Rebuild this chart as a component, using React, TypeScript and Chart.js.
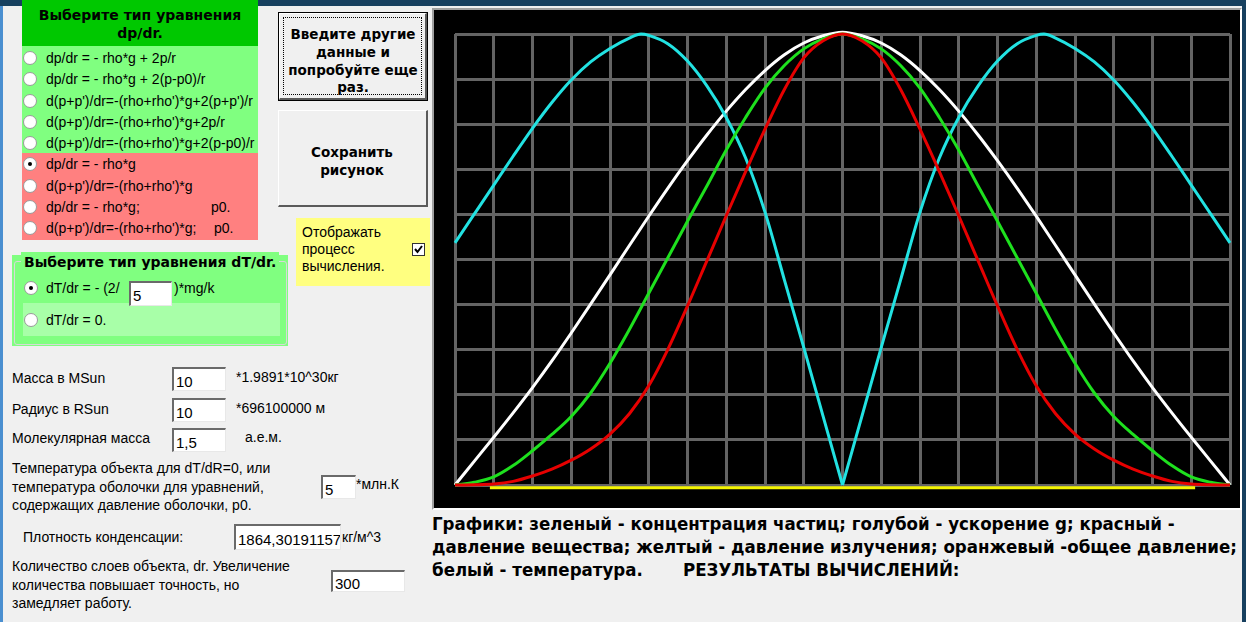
import React, { useEffect, useRef } from "react";
import { Chart, registerables } from "chart.js";

Chart.register(...registerables);

// ---- data (x in grid columns, y normalised 0..1) ----
const X_FULL = [0, 0.5, 1, 1.5, 2, 2.5, 3, 3.5, 4, 4.5, 5, 5.5, 6, 6.5, 7, 7.5, 8, 8.5, 9, 9.5, 10,
  10.5, 11, 11.5, 12, 12.5, 13, 13.5, 14, 14.5, 15, 15.5, 16, 16.5, 17, 17.5, 18, 18.5, 19, 19.5, 20];
const X_LEFT = [0, 0.5, 1, 1.5, 2, 2.5, 3, 3.5, 4, 4.5, 4.8, 5, 5.5, 6, 6.5, 7, 7.5, 8, 8.5, 9, 9.5, 10];
const X_RIGHT = [10, 10.5, 11, 11.5, 12, 12.5, 13, 13.5, 14, 14.5, 15, 15.2, 15.5, 16, 16.5, 17, 17.5, 18, 18.5, 19, 19.5, 20];
const X_YELLOW = [0.9, 10, 19.1];

const TEMPERATURE = [0, 0.053, 0.106, 0.16, 0.216, 0.275, 0.337, 0.401, 0.466, 0.531, 0.596, 0.659, 0.719, 0.776, 0.829, 0.877, 0.919, 0.954, 0.98, 0.996, 1.004,
  0.996, 0.98, 0.954, 0.919, 0.877, 0.829, 0.776, 0.719, 0.659, 0.596, 0.531, 0.466, 0.401, 0.337, 0.275, 0.216, 0.16, 0.106, 0.053, 0];
const CONCENTRATION = [0, 0.006, 0.018, 0.043, 0.076, 0.112, 0.152, 0.204, 0.27, 0.345, 0.425, 0.505, 0.585, 0.663, 0.743, 0.815, 0.88, 0.93, 0.967, 0.989, 1.0,
  0.989, 0.967, 0.93, 0.88, 0.815, 0.743, 0.663, 0.585, 0.505, 0.425, 0.345, 0.27, 0.204, 0.152, 0.112, 0.076, 0.043, 0.018, 0.006, 0];
const PRESSURE = [0, 0.0005, 0.002, 0.008, 0.02, 0.035, 0.055, 0.08, 0.113, 0.158, 0.22, 0.302, 0.397, 0.497, 0.597, 0.695, 0.789, 0.877, 0.947, 0.985, 1.0,
  0.985, 0.947, 0.877, 0.789, 0.695, 0.597, 0.497, 0.397, 0.302, 0.22, 0.158, 0.113, 0.08, 0.055, 0.035, 0.02, 0.008, 0.002, 0.0005, 0];
const GRAVITY_LEFT = [0.537, 0.601, 0.665, 0.729, 0.791, 0.848, 0.898, 0.938, 0.968, 0.991, 1.0, 0.997, 0.978, 0.94, 0.885, 0.815, 0.725, 0.605, 0.455, 0.305, 0.152, 0];
const GRAVITY_RIGHT = [0, 0.152, 0.305, 0.455, 0.605, 0.725, 0.815, 0.885, 0.94, 0.978, 0.997, 1.0, 0.991, 0.968, 0.938, 0.898, 0.848, 0.791, 0.729, 0.665, 0.601, 0.537];
const RADIATION = [-0.006, -0.006, -0.006];

const pts = (xs: number[], ys: number[]) => xs.map((x, i) => ({ x, y: ys[i] }));

const UI = '"Liberation Sans", Arial, sans-serif';
const BOLD = '"DejaVu Sans", Verdana, sans-serif';
const CAP = '"DejaVu Sans Condensed", "DejaVu Sans", sans-serif';

function Txt({ x, y, children, style }: any) {
  return (
    <div style={{ position: "absolute", left: x, top: y - 10, height: 20, lineHeight: "20px", fontFamily: UI, fontSize: 14, color: "#000", whiteSpace: "pre", ...style }}>
      {children}
    </div>
  );
}

function Radio({ x, y, checked }: any) {
  return (
    <div style={{ position: "absolute", left: x - 7, top: y - 7, width: 12, height: 12, borderRadius: "50%", background: "#fff", border: "1px solid #9a9a9a", boxSizing: "content-box" }}>
      {checked ? <div style={{ position: "absolute", left: 4, top: 4, width: 4, height: 4, borderRadius: "50%", background: "#000" }} /> : null}
    </div>
  );
}

function Box({ l, t, w, h, bg, style, children }: any) {
  return <div style={{ position: "absolute", left: l, top: t, width: w, height: h, background: bg, ...style }}>{children}</div>;
}

function Input({ l, t, w, h, value }: any) {
  return (
    <div style={{ position: "absolute", left: l, top: t, width: w, height: h, background: "#fff", boxSizing: "border-box", borderTop: "2px solid #6a6a6a", borderLeft: "2px solid #6a6a6a", borderRight: "1px solid #e8e8e8", borderBottom: "1px solid #e8e8e8", fontFamily: UI, fontSize: 15, lineHeight: h - 1 + "px", paddingLeft: 2, paddingTop: 1, color: "#000", overflow: "hidden", whiteSpace: "pre" }}>
      {value}
    </div>
  );
}

function Button({ l, t, w, h, lines, ys, def }: any) {
  return (
    <div style={{ position: "absolute", left: l, top: t, width: w, height: h, boxSizing: "border-box", background: "#f0f0f0", border: def ? "1px solid #000" : "none" }}>
      <div style={{ position: "absolute", inset: 0, borderTop: "1px solid #fff", borderLeft: "1px solid #fff", borderRight: "2px solid #5a5a5a", borderBottom: "2px solid #5a5a5a" }} />
      {def ? <div style={{ position: "absolute", left: 4, top: 4, right: 5, bottom: 5, border: "1px dotted #000" }} /> : null}
      {lines.map((s: string, i: number) => (
        <div key={i} style={{ position: "absolute", left: 0, width: w - 2, top: ys[i] - t - 10, height: 20, lineHeight: "20px", textAlign: "center", fontFamily: BOLD, fontWeight: "bold", fontSize: 13.5, whiteSpace: "pre" }}>{s}</div>
      ))}
    </div>
  );
}

function StarChart() {
  const ref = useRef<HTMLCanvasElement | null>(null);
  useEffect(() => {
    if (!ref.current) return;
    const GRID = "#646464";
    const common = { pointRadius: 0, borderWidth: 3, fill: false, clip: false as any, cubicInterpolationMode: "monotone" as const };
    const chart = new Chart(ref.current, {
      type: "line",
      data: {
        datasets: [
          { ...common, label: "давление вещества", data: pts(X_FULL, PRESSURE), borderColor: "#e60000" },
          { ...common, label: "концентрация частиц", data: pts(X_FULL, CONCENTRATION), borderColor: "#1ee01e" },
          { ...common, label: "ускорение g", data: pts(X_LEFT, GRAVITY_LEFT), borderColor: "#22e2e2" },
          { ...common, label: "ускорение g ", data: pts(X_RIGHT, GRAVITY_RIGHT), borderColor: "#22e2e2" },
          { ...common, label: "температура", data: pts(X_FULL, TEMPERATURE), borderColor: "#ffffff" },
          { ...common, label: "давление излучения", data: pts(X_YELLOW, RADIATION), borderColor: "#f5f500", cubicInterpolationMode: "default" as const, tension: 0 },
        ],
      },
      options: {
        responsive: false,
        animation: false,
        layout: { padding: { left: 21, right: 10, top: 24, bottom: 23 } },
        plugins: { legend: { display: false }, tooltip: { enabled: false } },
        scales: {
          x: { type: "linear", min: 0, max: 20, ticks: { display: false, stepSize: 1 }, grid: { color: GRID, lineWidth: 3, drawTicks: false }, border: { display: false } },
          y: { type: "linear", min: 0, max: 1, ticks: { display: false, stepSize: 0.1 }, grid: { color: GRID, lineWidth: 3, drawTicks: false }, border: { display: false } },
        },
      },
    });
    return () => chart.destroy();
  }, []);
  return <canvas ref={ref} width={806} height={498} style={{ position: "absolute", left: 0, top: 0, width: 806, height: 498, background: "#000" }} />;
}

export default function App() {
  const LG = "#80ff80";
  const titleStyle = { fontFamily: BOLD, fontWeight: "bold", fontSize: 14 };
  const capStyle = { fontFamily: CAP, fontWeight: "bold", fontSize: 18.5 };
  return (
    <div style={{ position: "fixed", left: 0, top: 0, width: 1246, height: 622, background: "#f0f0f0", overflow: "hidden", fontFamily: UI }}>
      {/* window frame */}
      <Box l={0} t={0} w={1246} h={6} bg="#17405f" />
      <Box l={0} t={6} w={3} h={616} bg="#4a8fd0" />
      <Box l={1242} t={0} w={4} h={622} bg="#17405f" />

      {/* dp/dr selection */}
      <Box l={22} t={0} w={236} h={46} bg="#00c800" />
      <Txt x={22} y={15} style={{ width: 236, textAlign: "center", ...titleStyle }}>Выберите тип уравнения</Txt>
      <Txt x={22} y={33} style={{ width: 236, textAlign: "center", ...titleStyle }}>dp/dr.</Txt>
      <Box l={22} t={46} w={236} h={107} bg={LG} />
      <Box l={22} t={153} w={236} h={87} bg="#ff8080" />
      <Radio x={30} y={58} /><Txt x={46} y={58}>dp/dr = - rho*g + 2p/r</Txt>
      <Radio x={30} y={79} /><Txt x={46} y={79}>dp/dr = - rho*g + 2(p-p0)/r</Txt>
      <Radio x={30} y={101} /><Txt x={46} y={101}>d(p+p')/dr=-(rho+rho')*g+2(p+p')/r</Txt>
      <Radio x={30} y={122} /><Txt x={46} y={122}>d(p+p')/dr=-(rho+rho')*g+2p/r</Txt>
      <Radio x={30} y={143} /><Txt x={46} y={143}>d(p+p')/dr=-(rho+rho')*g+2(p-p0)/r</Txt>
      <Radio x={30} y={164} checked /><Txt x={46} y={164}>dp/dr = - rho*g</Txt>
      <Radio x={30} y={186} /><Txt x={46} y={186}>d(p+p')/dr=-(rho+rho')*g</Txt>
      <Radio x={30} y={207} /><Txt x={46} y={207}>dp/dr = - rho*g;</Txt><Txt x={211} y={207}>p0.</Txt>
      <Radio x={30} y={228} /><Txt x={46} y={228}>d(p+p')/dr=-(rho+rho')*g;</Txt><Txt x={214} y={228}>p0.</Txt>

      {/* dT/dr group */}
      <Box l={12} t={255} w={276} h={91} bg={LG} />
      <Box l={14} t={261} w={271} h={82} style={{ border: "1px solid #d8d8d8", borderRadius: 3 }} />
      <Box l={23} t={303} w={257} h={33} bg="#a8ffa8" />
      <Txt x={21} y={262} style={{ background: LG, padding: "0 3px", ...titleStyle }}>Выберите тип уравнения dT/dr.</Txt>
      <Radio x={31} y={288} checked /><Txt x={46} y={288}>dT/dr = - (2/</Txt>
      <Input l={129} t={281} w={43} h={25} value="5" />
      <Txt x={174} y={288}>)*mg/k</Txt>
      <Radio x={31} y={320} /><Txt x={46} y={320}>dT/dr = 0.</Txt>

      {/* buttons */}
      <Button l={278} t={12} w={150} h={89} def lines={["Введите другие", "данные и", "попробуйте еще", "раз."]} ys={[33, 51, 69, 86]} />
      <Button l={278} t={110} w={150} h={97} lines={["Сохранить", "рисунок"]} ys={[152, 170]} />

      {/* yellow option */}
      <Box l={296} t={218} w={134} h={68} bg="#ffff80" />
      <Txt x={302} y={232}>Отображать</Txt>
      <Txt x={302} y={249}>процесс</Txt>
      <Txt x={302} y={266}>вычисления.</Txt>
      <Box l={412} t={243} w={13} h={13} bg="#fff" style={{ border: "1px solid #333", boxSizing: "border-box" }}>
        <svg width="11" height="11" style={{ position: "absolute", left: 0, top: 0 }}>
          <polyline points="2,5 4.5,8 9,2" fill="none" stroke="#000" strokeWidth="2" />
        </svg>
      </Box>

      {/* parameters */}
      <Txt x={12} y={378}>Масса в MSun</Txt>
      <Input l={172} t={367} w={54} h={24} value="10" />
      <Txt x={236} y={377}>*1.9891*10^30кг</Txt>
      <Txt x={12} y={409}>Радиус в RSun</Txt>
      <Input l={172} t={398} w={54} h={24} value="10" />
      <Txt x={236} y={408}>*696100000 м</Txt>
      <Txt x={12} y={438}>Молекулярная масса</Txt>
      <Input l={172} t={428} w={54} h={24} value="1,5" />
      <Txt x={245} y={437}>а.е.м.</Txt>
      <Txt x={12} y={468}>Температура объекта для dT/dR=0, или</Txt>
      <Txt x={12} y={487}>температура оболочки для уравнений,</Txt>
      <Txt x={12} y={505}>содержащих давление оболочки, p0.</Txt>
      <Input l={321} t={475} w={35} h={24} value="5" />
      <Txt x={356} y={484}>*млн.К</Txt>
      <Txt x={23} y={537}>Плотность конденсации:</Txt>
      <Input l={234} t={524} w={107} h={26} value="1864,30191157" />
      <Txt x={342} y={537}>кг/м^3</Txt>
      <Txt x={12} y={566}>Количество слоев объекта, dr. Увеличение</Txt>
      <Txt x={12} y={585}>количества повышает точность, но</Txt>
      <Txt x={12} y={603}>замедляет работу.</Txt>
      <Input l={331} t={570} w={74} h={22} value="300" />

      {/* chart */}
      <div style={{ position: "absolute", left: 432, top: 8, width: 810, height: 502, boxSizing: "border-box", borderTop: "2px solid #a0a0a0", borderLeft: "2px solid #a0a0a0", borderRight: "2px solid #ffffff", borderBottom: "2px solid #ffffff" }}>
        <StarChart />
      </div>

      {/* caption */}
      <Txt x={432} y={524} style={capStyle}>Графики: зеленый - концентрация частиц; голубой - ускорение g; красный -</Txt>
      <Txt x={432} y={547} style={capStyle}>давление вещества; желтый - давление излучения; оранжевый -общее давление;</Txt>
      <Txt x={432} y={570} style={capStyle}>белый - температура.</Txt>
      <Txt x={683} y={570} style={capStyle}>РЕЗУЛЬТАТЫ ВЫЧИСЛЕНИЙ:</Txt>
    </div>
  );
}
